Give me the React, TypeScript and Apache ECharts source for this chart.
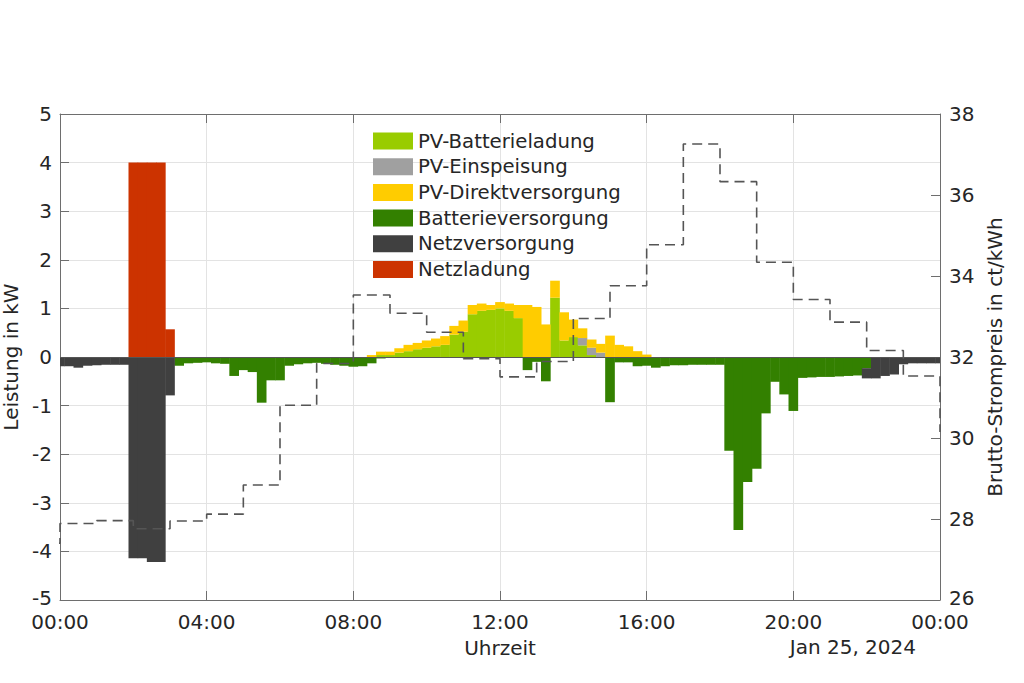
import React, { useEffect, useRef } from "react";
import * as echarts from "echarts";

// 15-minute slots from 00:00 (index 0) to 24:00 (index 96)
const SLOT_HOURS = 0.25;

const seriesNames = [
  "PV-Batterieladung",
  "PV-Einspeisung",
  "PV-Direktversorgung",
  "Batterieversorgung",
  "Netzversorgung",
  "Netzladung",
];

const seriesColors = ["#99cc00", "#a0a0a0", "#ffcc00", "#338000", "#404040", "#cc3300"];

// kW, positive side
const pvBatteryCharge = [
  0, 0, 0, 0, 0, 0, 0, 0,
  0, 0, 0, 0, 0, 0, 0, 0,
  0, 0, 0, 0, 0, 0, 0, 0,
  0, 0, 0, 0, 0, 0, 0, 0,
  0, 0, 0, 0.04, 0.04, 0.09, 0.12, 0.16,
  0.19, 0.22, 0.25, 0.46, 0.52, 0.88, 0.95, 0.97,
  1.0, 0.95, 0.8, 0, 0, 0, 1.22, 0.34,
  0.41, 0.24, 0.04, 0, 0, 0, 0, 0,
  0, 0, 0, 0, 0, 0, 0, 0,
  0, 0, 0, 0, 0, 0, 0, 0,
  0, 0, 0, 0, 0, 0, 0, 0,
  0, 0, 0, 0, 0, 0, 0, 0,
  0,
];

const pvFeedIn = [
  0, 0, 0, 0, 0, 0, 0, 0,
  0, 0, 0, 0, 0, 0, 0, 0,
  0, 0, 0, 0, 0, 0, 0, 0,
  0, 0, 0, 0, 0, 0, 0, 0,
  0, 0, 0, 0, 0, 0, 0, 0,
  0, 0, 0, 0, 0, 0, 0, 0,
  0, 0, 0, 0, 0, 0, 0, 0,
  0, 0.15, 0.15, 0.09, 0, 0, 0, 0,
  0, 0, 0, 0, 0, 0, 0, 0,
  0, 0, 0, 0, 0, 0, 0, 0,
  0, 0, 0, 0, 0, 0, 0, 0,
  0, 0, 0, 0, 0, 0, 0, 0,
  0,
];

const pvDirect = [
  0, 0, 0, 0, 0, 0, 0, 0,
  0, 0, 0, 0, 0, 0, 0, 0,
  0, 0, 0, 0, 0, 0, 0, 0,
  0, 0, 0, 0, 0, 0, 0, 0,
  0, 0, 0.04, 0.07, 0.07, 0.09, 0.13, 0.13,
  0.15, 0.16, 0.18, 0.18, 0.23, 0.19, 0.15, 0.1,
  0.13, 0.15, 0.27, 1.07, 1.03, 0.67, 0.35, 0.58,
  0.36, 0.2, 0.17, 0.18, 0.44, 0.25, 0.22, 0.12,
  0.05, 0, 0, 0, 0, 0, 0, 0,
  0, 0, 0, 0, 0, 0, 0, 0,
  0, 0, 0, 0, 0, 0, 0, 0,
  0, 0, 0, 0, 0, 0, 0, 0,
  0,
];

const gridCharge = [
  0, 0, 0, 0, 0, 0, 0, 0,
  4, 4, 4, 4, 0.57, 0, 0, 0,
  0, 0, 0, 0, 0, 0, 0, 0,
  0, 0, 0, 0, 0, 0, 0, 0,
  0, 0, 0, 0, 0, 0, 0, 0,
  0, 0, 0, 0, 0, 0, 0, 0,
  0, 0, 0, 0, 0, 0, 0, 0,
  0, 0, 0, 0, 0, 0, 0, 0,
  0, 0, 0, 0, 0, 0, 0, 0,
  0, 0, 0, 0, 0, 0, 0, 0,
  0, 0, 0, 0, 0, 0, 0, 0,
  0, 0, 0, 0, 0, 0, 0, 0,
  0,
];

// kW, negative side
const batterySupply = [
  0, 0, 0, 0, 0, 0, 0, 0,
  0, 0, 0, 0, 0, -0.18, -0.13, -0.12,
  -0.11, -0.13, -0.14, -0.39, -0.27, -0.31, -0.94, -0.48,
  -0.48, -0.18, -0.15, -0.13, -0.12, -0.14, -0.16, -0.18,
  -0.2, -0.19, -0.13, -0.03, 0, 0, 0, 0,
  0, 0, 0, 0, 0, 0, 0, 0,
  0, 0, 0, -0.27, -0.1, -0.5, 0, 0,
  0, 0, 0, 0, -0.93, -0.11, -0.11, -0.19,
  -0.18, -0.22, -0.19, -0.17, -0.17, -0.16, -0.16, -0.16,
  -0.16, -1.93, -3.56, -2.57, -2.3, -1.16, -0.51, -0.77,
  -1.11, -0.43, -0.42, -0.41, -0.41, -0.4, -0.39, -0.38,
  -0.23, 0, 0, 0, 0, 0, 0, 0,
  0,
];

const gridSupply = [
  -0.19, -0.19, -0.22, -0.18, -0.17, -0.16, -0.16, -0.16,
  -4.14, -4.14, -4.22, -4.22, -0.79, 0, 0, 0,
  0, 0, 0, 0, 0, 0, 0, 0,
  0, 0, 0, 0, 0, 0, 0, 0,
  0, 0, 0, 0, 0, 0, 0, 0,
  0, 0, 0, 0, 0, 0, 0, 0,
  0, 0, 0, 0, 0, 0, 0, 0,
  0, 0, 0, 0, 0, 0, 0, 0,
  0, 0, 0, 0, 0, 0, 0, 0,
  0, 0, 0, 0, 0, 0, 0, 0,
  0, 0, 0, 0, 0, 0, 0, 0,
  -0.21, -0.44, -0.39, -0.36, -0.15, -0.13, -0.13, -0.13,
  -0.13,
];

// hourly gross electricity price, ct/kWh (stairs)
const priceHours = [-1, 0, 1, 2, 3, 4, 5, 6, 7, 8, 9, 10, 11, 12, 13, 14, 15, 16, 17, 18, 19, 20, 21, 22, 23, 24];
const priceValues = [
  27.4, 27.89, 27.96, 27.76, 27.95, 28.12, 28.84, 30.81, 31.84, 33.53, 33.08, 32.61, 31.96,
  31.51, 31.89, 32.95, 33.76, 34.77, 37.26, 36.33, 34.34, 33.42, 32.86, 32.16, 31.53, 30.15,
];

const xTicks = [0, 4, 8, 12, 16, 20, 24];

const FONT = "'DejaVu Sans', 'Noto Sans', sans-serif";
const TEXT = "#262626";
const AXIS = "#6e6e6e";
const GRIDC = "#e3e3e3";

// [time, base, top] per slot
function toStackRows(base: number[], top: number[]) {
  return top.map((t, i) => [i * SLOT_HOURS, base[i], t]);
}

function cumulate(...arrays: number[][]) {
  return arrays[0].map((_, i) => arrays.reduce((s, a) => s + a[i], 0));
}

function hourLabel(v: number) {
  const h = ((v % 24) + 24) % 24;
  return (h < 10 ? "0" : "") + h + ":00";
}

const labelFont = { fontFamily: FONT, fontSize: 20, color: TEXT };

// lowest tick label is lifted slightly so it does not touch the time labels below it
function yLabelConfig(minValue: number, margin: number) {
  return {
    ...labelFont,
    lineHeight: 16,
    margin,
    formatter: (v: number) => (v === minValue ? "{lo|" + v + "}" : String(v)),
    rich: { lo: { ...labelFont, lineHeight: 16, padding: [0, 0, 5, 0] } },
  };
}

export default function App() {
  const ref = useRef<HTMLDivElement>(null);

  useEffect(() => {
    if (!ref.current) return;
    const chart = echarts.init(ref.current, null, { renderer: "svg" });

    const zeros = pvBatteryCharge.map(() => 0);
    const posA = pvBatteryCharge;
    const posB = cumulate(pvBatteryCharge, pvFeedIn);
    const posC = cumulate(pvBatteryCharge, pvFeedIn, pvDirect);
    const posD = cumulate(pvBatteryCharge, pvFeedIn, pvDirect, gridCharge);
    const negA = batterySupply;
    const negB = cumulate(batterySupply, gridSupply);

    const layers: { idx: number; rows: number[][] }[] = [
      { idx: 0, rows: toStackRows(zeros, posA) },
      { idx: 1, rows: toStackRows(posA, posB) },
      { idx: 2, rows: toStackRows(posB, posC) },
      { idx: 3, rows: toStackRows(zeros, negA) },
      { idx: 4, rows: toStackRows(negA, negB) },
      { idx: 5, rows: toStackRows(posC, posD) },
    ];

    const barSeries: any[] = layers.map((layer) => {
      const color = seriesColors[layer.idx];
      return {
        name: seriesNames[layer.idx],
        type: "custom",
        xAxisIndex: 0,
        yAxisIndex: 0,
        silent: true,
        itemStyle: { color },
        encode: { x: 0, y: [1, 2] },
        data: layer.rows,
        renderItem: (params: any, api: any) => {
          const t = api.value(0);
          const b = api.value(1);
          const v = api.value(2);
          if (Math.abs(v - b) < 1e-9) return null;
          const p0 = api.coord([t - SLOT_HOURS / 2, b]);
          const p1 = api.coord([t + SLOT_HOURS / 2, v]);
          const cs = params.coordSys;
          const rect = echarts.graphic.clipRectByRect(
            {
              x: p0[0] - 0.25,
              y: Math.min(p0[1], p1[1]),
              width: p1[0] - p0[0] + 0.5,
              height: Math.abs(p1[1] - p0[1]),
            },
            { x: cs.x, y: cs.y, width: cs.width, height: cs.height }
          );
          if (!rect) return null;
          return { type: "rect", shape: rect, style: { fill: color } };
        },
      };
    });

    const axisCommon = {
      axisLine: { show: true, onZero: false, lineStyle: { color: AXIS, width: 1 } },
      axisTick: { show: true, inside: true, length: 9, lineStyle: { color: AXIS } },
    };

    chart.setOption({
      animation: false,
      backgroundColor: "#ffffff",
      grid: {
        left: 60,
        top: 114,
        width: 880,
        height: 486,
        containLabel: false,
        outerBoundsMode: "none",
      },
      legend: {
        data: seriesNames,
        orient: "vertical",
        left: 373,
        top: 131,
        padding: 0,
        itemWidth: 40,
        itemHeight: 17,
        itemGap: 5.7,
        icon: "rect",
        selectedMode: false,
        textStyle: { fontFamily: FONT, fontSize: 19.7, color: TEXT },
      },
      xAxis: [
        {
          type: "value",
          position: "bottom",
          min: 0,
          max: 24,
          interval: 4,
          ...axisCommon,
          axisLabel: {
            formatter: (v: number) => (xTicks.indexOf(v) >= 0 ? hourLabel(v) : ""),
            ...labelFont,
            lineHeight: 18,
            margin: 13,
          },
          splitLine: { show: true, lineStyle: { color: GRIDC, width: 1 } },
          name: "Uhrzeit",
          nameLocation: "middle",
          nameGap: 38,
          nameTextStyle: labelFont,
        },
        {
          type: "value",
          position: "top",
          min: 0,
          max: 24,
          interval: 4,
          ...axisCommon,
          axisLabel: { show: false },
          splitLine: { show: false },
        },
      ],
      yAxis: [
        {
          type: "value",
          position: "left",
          min: -5,
          max: 5,
          interval: 1,
          ...axisCommon,
          axisLabel: yLabelConfig(-5, 8),
          splitLine: { show: true, lineStyle: { color: GRIDC, width: 1 } },
          name: "Leistung in kW",
          nameLocation: "middle",
          nameRotate: 90,
          nameGap: 33,
          nameTextStyle: labelFont,
        },
        {
          type: "value",
          position: "right",
          min: 26,
          max: 38,
          interval: 2,
          ...axisCommon,
          axisLabel: yLabelConfig(26, 9),
          splitLine: { show: false },
          name: "Brutto-Strompreis in ct/kWh",
          nameLocation: "middle",
          nameRotate: 90,
          nameGap: 40,
          nameTextStyle: labelFont,
        },
      ],
      graphic: [
        {
          type: "text",
          x: 916,
          y: 647,
          silent: true,
          style: {
            text: "Jan 25, 2024",
            fontFamily: FONT,
            fontSize: 20,
            fill: TEXT,
            align: "right",
            verticalAlign: "middle",
          },
        },
      ],
      series: [
        ...barSeries,
        {
          name: "Nulllinie",
          type: "line",
          xAxisIndex: 0,
          yAxisIndex: 0,
          silent: true,
          showSymbol: false,
          data: [],
          markLine: {
            silent: true,
            symbol: "none",
            label: { show: false },
            lineStyle: { color: "#555555", width: 1, type: "solid" },
            data: [{ yAxis: 0 }],
          },
        },
        {
          name: "Brutto-Strompreis",
          type: "line",
          step: "end",
          xAxisIndex: 0,
          yAxisIndex: 1,
          showSymbol: false,
          silent: true,
          clip: true,
          z: 5,
          lineStyle: { color: "#555555", width: 1.6, type: [10, 6] },
          data: priceHours.map((h, i) => [h, priceValues[i]]),
        },
      ],
    });

    return () => chart.dispose();
  }, []);

  return (
    <div
      ref={ref}
      style={{ position: "fixed", left: 0, top: 0, width: 1024, height: 683, background: "#ffffff" }}
    />
  );
}
